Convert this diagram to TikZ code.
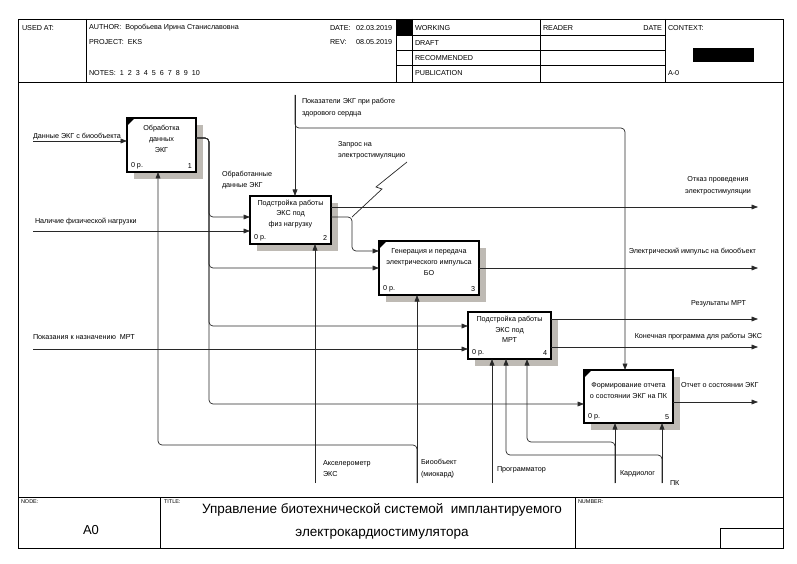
\documentclass[tikz,border=0pt]{standalone}
\usepackage{fontspec}
\setmainfont{Liberation Sans}
\usetikzlibrary{arrows.meta,calc,shadows}
\definecolor{shadowc}{RGB}{190,186,180}
\definecolor{linec}{RGB}{40,40,40}
\begin{document}
\begin{tikzpicture}[x=1pt,y=-1pt,
  every node/.style={font=\fontsize{7.2}{8.6}\selectfont, inner sep=0pt, outer sep=0pt},
  fr/.style={line width=0.7pt, draw=black},
  hd/.style={anchor=west, font=\fontsize{7.2}{8.6}\selectfont},
  small/.style={anchor=north west, font=\fontsize{5.5}{6}\selectfont},
  box/.style={draw=black, line width=1.8pt, fill=white, anchor=north west,
    general shadow={fill=shadowc, shadow xshift=7pt, shadow yshift=-7pt}},
  btxt/.style={align=center, font=\fontsize{7.2}{10.8}\selectfont},
  lbl/.style={align=left, anchor=west, font=\fontsize{7.2}{11.5}\selectfont},
  arr/.style={draw=linec, line width=0.7pt, rounded corners=4pt, -{Triangle[length=6.5pt,width=4.8pt]}},
  ln/.style={draw=linec, line width=0.7pt}
]
\useasboundingbox (0,0) rectangle (797,564);
% ---------- frame ----------
\draw[fr] (18,19) rectangle (783,548);
\draw[fr] (18,82) -- (783,82);
\draw[fr] (86,19) -- (86,82);
\draw[fr] (396,19) -- (396,82);
\draw[fr] (412,19) -- (412,82);
\draw[fr] (540,19) -- (540,82);
\draw[fr] (665,19) -- (665,82);
\foreach \yy in {35,50,65} \draw[fr] (396,\yy) -- (665,\yy);
\fill (396,19) rectangle (412,35);
\fill (693,48) rectangle (754,62);
\draw[fr] (18,497) -- (783,497);
\draw[fr] (160,497) -- (160,548);
\draw[fr] (575,497) -- (575,548);
\draw[fr] (720,528) rectangle (783,548);
% header texts
\node[hd] (h1) at (22,28) {USED AT:};
\node[hd] (h2) at (89,28) {AUTHOR:\ \ Воробьева Ирина Станиславовна};
\node[hd] (h3) at (89,42) {PROJECT:\ \ EKS};
\node[hd] (h4) at (89,73) {NOTES:\ \ 1\ \ 2\ \ 3\ \ 4\ \ 5\ \ 6\ \ 7\ \ 8\ \ 9\ \ 10};
\node[hd] (h5) at (330,28) {DATE:};
\node[hd] (h6) at (356,28) {02.03.2019};
\node[hd] (h7) at (330,42) {REV:};
\node[hd] (h8) at (356,42) {08.05.2019};
\node[hd] (h9) at (415,28) {WORKING};
\node[hd] (h10) at (415,43) {DRAFT};
\node[hd] (h11) at (415,58) {RECOMMENDED};
\node[hd] (h12) at (415,73) {PUBLICATION};
\node[hd] (h13) at (543,28) {READER};
\node[hd, anchor=east] (h14) at (662,28) {DATE};
\node[hd] (h15) at (668,28) {CONTEXT:};
\node[hd] (h16) at (668,73) {A-0};
% footer texts
\node[small] (f1) at (21,500) {NODE:};
\node[small] (f2) at (164,500) {TITLE:};
\node[small] (f3) at (578,500) {NUMBER:};
\node[font=\fontsize{13}{15}\selectfont] (f4) at (91,530) {A0};
\node[align=center, font=\fontsize{13.5}{23}\selectfont] (f5) at (382,521.5) {Управление биотехнической системой \ имплантируемого\\электрокардиостимулятора};
% ---------- boxes ----------
\node[box, minimum width=69pt, minimum height=54pt] (b1) at (127,118) {};
\node[box, minimum width=81pt, minimum height=48pt] (b2) at (250,196) {};
\node[box, minimum width=100pt, minimum height=54pt] (b3) at (379,241) {};
\node[box, minimum width=83pt, minimum height=47pt] (b4) at (468,312) {};
\node[box, minimum width=89pt, minimum height=53pt] (b5) at (584,370) {};
\foreach \b in {b1,b3,b5}
  \fill ($(\b.north west)+(0.9,0.9)$) -- ++(6,0) -- ++(-6,6) -- cycle;
\node[btxt] (b1t) at ($(b1.center)+(0,-6)$) {Обработка\\данных\\ЭКГ};
\node[btxt] (b2t) at ($(b2.center)+(0,-6)$) {Подстройка работы\\ЭКС под\\физ нагрузку};
\node[btxt] (b3t) at ($(b3.center)+(0,-6)$) {Генерация и передача\\электрического импульса\\БО};
\node[btxt] (b4t) at ($(b4.center)+(0,-6)$) {Подстройка работы\\ЭКС под\\МРТ};
\node[btxt] (b5t) at ($(b5.center)+(0,-6)$) {Формирование отчета\\о состоянии ЭКГ на ПК};
\foreach \b/\n in {b1/1,b2/2,b3/3,b4/4,b5/5}{
  \node[anchor=south west] (\b p) at ($(\b.south west)+(4,-3.5)$) {0 р.};
  \node[anchor=south east] (\b n) at ($(\b.south east)+(-4,-3.5)$) {\n};
}
% ---------- coordinates ----------
\coordinate (s1) at (33,141);
\coordinate (s2) at (33,231);
\coordinate (s3) at (33,349);
\coordinate (c1) at (295,95);
\coordinate (k1) at (625,128);
\coordinate (m1) at (315,483);
\coordinate (m2) at (417,483);
\coordinate (m3) at (492,483);
\coordinate (m4) at (615,483);
\coordinate (m5) at (662,483);
\coordinate (k2) at (158,445);
\coordinate (k3) at (527,442);
\coordinate (k4) at (506,455);
\coordinate (oe) at (758,0);
\coordinate (b1o) at ($(b1.north east)+(0,20)$);
\coordinate (tr) at ($(b1o)+(13,0)$);
\coordinate (b2i1) at ($(b2.north west)+(0,21)$);
\coordinate (b3i1) at ($(b3.north west)+(0,10)$);
\coordinate (b3i2) at ($(b3.north west)+(0,27)$);
\coordinate (b4i1) at ($(b4.north west)+(0,14)$);
\coordinate (b5i) at ($(b5.north west)+(0,34)$);
\coordinate (b2o1) at ($(b2.north east)+(0,11)$);
\coordinate (b2o2) at ($(b2.north east)+(0,21)$);
\coordinate (q) at ($(b2o2)+(21,0)$);
\coordinate (b3o) at ($(b3.north east)+(0,27)$);
\coordinate (b4o1) at ($(b4.north east)+(0,7)$);
\coordinate (b4o2) at ($(b4.north east)+(0,35)$);
\coordinate (b5o) at ($(b5.north east)+(0,32)$);
% ---------- connectors ----------
\draw[arr] (s1) -- (s1 -| b1.west);
\draw[arr] (s2) -- (s2 -| b2.west);
\draw[arr] (s3) -- (s3 -| b4.west);
\draw[arr] (c1) -- (c1 |- b2.north);
\draw[arr] (c1) |- (k1) -- (k1 |- b5.north);
\draw[arr] (b1o) -- (tr) |- (b2i1);
\draw[arr] (b1o) -- (tr) |- (b3i2);
\draw[arr] (b1o) -- (tr) |- (b4i1);
\draw[arr] (b1o) -- (tr) |- (b5i);
\draw[arr] (b2o1) -- (b2o1 -| oe);
\draw[arr] (b2o2) -- (q) |- (b3i1);
\draw[ln] (q) -- ++(30,-28) -- ++(-6,-2) -- ++(31,-25);
\draw[arr] (b3o) -- (b3o -| oe);
\draw[arr] (b4o1) -- (b4o1 -| oe);
\draw[arr] (b4o2) -- (b4o2 -| oe);
\draw[arr] (b5o) -- (b5o -| oe);
\draw[arr] (m1) -- (m1 |- b2.south);
\draw[arr] (m2) -- (m2 |- b3.south);
\draw[arr] (m2) |- (k2) -- (k2 |- b1.south);
\draw[arr] (m3) -- (m3 |- b4.south);
\draw[arr] (m4) -- (m4 |- b5.south);
\draw[arr] (m4) |- (k3) -- (k3 |- b4.south);
\draw[arr] (m5) -- (m5 |- b5.south);
\draw[arr] (m5) |- (k4) -- (k4 |- b4.south);
% ---------- labels ----------
\node[anchor=south west] (l1) at (33,139.5) {Данные ЭКГ с биообъекта};
\node[lbl] (l2) at (35,222) {Наличие физической нагрузки};
\node[lbl] (l3) at (33,337) {Показания к назначению \ МРТ};
\node[lbl] (l4) at (222,180) {Обработанные\\данные ЭКГ};
\node[lbl] (l5) at (302,107.5) {Показатели ЭКГ при работе\\здорового сердца};
\node[lbl] (l6) at (338,150) {Запрос на\\электростимуляцию};
\node[align=center, font=\fontsize{7.2}{11.5}\selectfont] (l7) at (718,185.5) {Отказ проведения\\электростимуляции};
\node[anchor=east] (l8) at (756,252) {Электрический импульс на биообъект};
\node[anchor=east] (l9) at (746,304) {Результаты МРТ};
\node[anchor=east] (l10) at (762,337) {Конечная программа для работы ЭКС};
\node[anchor=west] (l11) at (681,385) {Отчет о состоянии ЭКГ};
\node[lbl] (l12) at (323,468.5) {Акселерометр\\ЭКС};
\node[lbl] (l13) at (421,468.5) {Биообъект\\(миокард)};
\node[anchor=west] (l14) at (497,470) {Программатор};
\node[anchor=west] (l15) at (620,474) {Кардиолог};
\node[anchor=west] (l16) at (670,483) {ПК};
\end{tikzpicture}
\end{document}
